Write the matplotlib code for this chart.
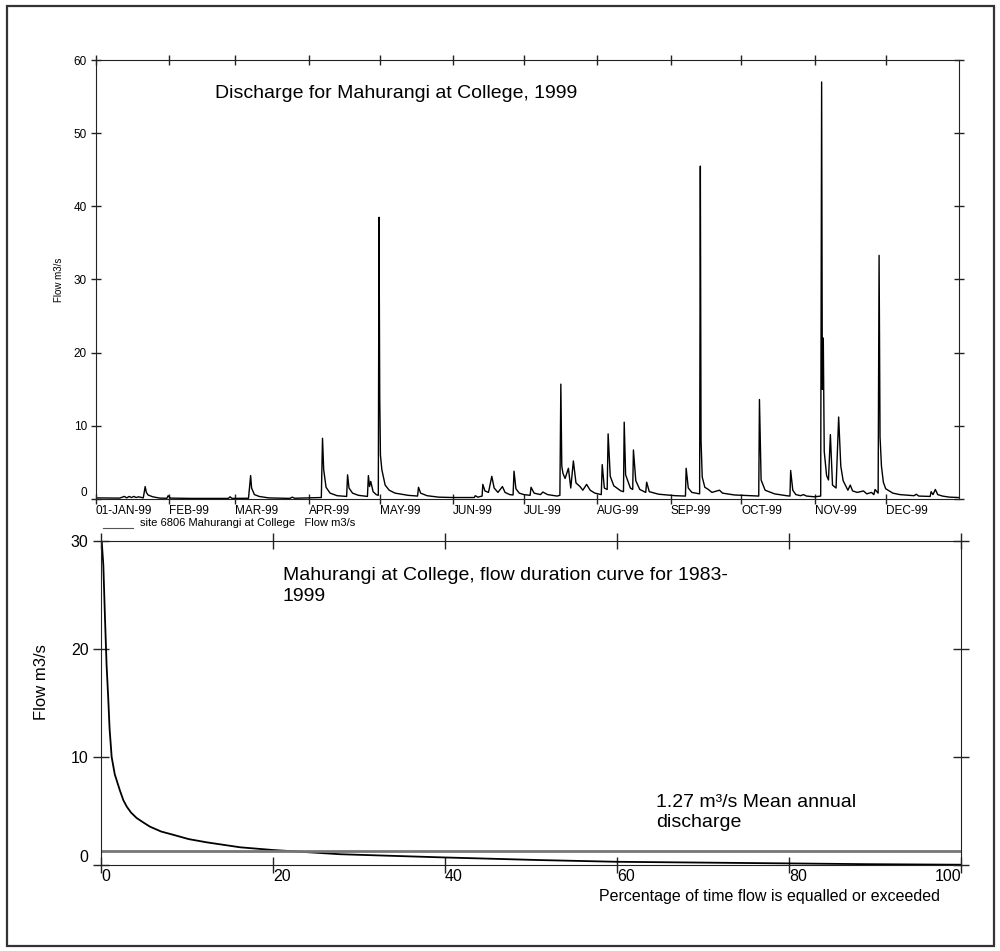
import matplotlib
matplotlib.use("Agg")
import matplotlib.pyplot as plt
import numpy as np
from matplotlib.patches import Rectangle
from matplotlib.lines import Line2D

plt.rcParams['font.family'] = ['Liberation Sans', 'DejaVu Sans']

# hydrograph vertices: day of 1999, flow m3/s
day = [0, 10, 12, 13, 14, 15, 16, 17, 18, 20, 20.8, 21.3, 22, 24, 27, 30, 30.5, 31.5,
       40, 56, 56.7, 57.5, 64.5, 65.4, 65.8, 67, 69, 73, 82, 83, 84, 95.3, 95.8, 96.3,
       97.3, 99, 102, 106, 106.4, 107, 108.5, 111, 114.8, 115.2, 115.7, 116.2, 117.2,
       118.5, 119.4, 119.7, 120.0, 120.3, 120.9, 122.3, 124, 126.5, 132, 136, 136.4,
       137.3, 140, 145, 151, 155, 160, 160.4, 161.5, 163.3, 163.6, 164.5, 166, 167.4,
       168.4, 170, 171.9, 173, 175, 176.4, 176.8, 177.6, 179, 181, 183.6, 184, 185.3,
       188, 189, 191, 195, 196.2, 196.6, 197.0, 197.5, 198.4, 199.8, 200.8, 201.9, 203,
       204.7, 205.9, 207.5, 209, 211, 213.7, 214.1, 215, 216.2, 216.6, 217.5, 219, 222,
       223.1, 223.4, 224, 226, 227, 227.3, 228.3, 230, 232.5, 232.9, 234, 238, 245,
       249.3, 249.6, 250.5, 252, 255.3, 255.6, 255.9, 256.4, 257.5, 259, 260.5, 263.7,
       265, 270, 277, 280.3, 280.6, 281.3, 283, 287, 292, 293.5, 293.8, 294.7, 296, 298,
       299.2, 300.5, 304, 306.5, 306.9, 307.2, 307.6, 308.0, 309, 309.8, 310.6, 311.5,
       313, 314.1, 315, 316, 318, 319, 320, 322, 324.6, 326, 328, 329, 329.5, 330.8,
       331.2, 331.6, 332.2, 333, 334, 337, 340, 346, 346.9, 348, 352.8, 353.2, 354, 355,
       356, 358, 361, 365]
flow = [0.15, 0.12, 0.35, 0.15, 0.35, 0.2, 0.35, 0.2, 0.3, 0.15, 1.7, 0.9, 0.55, 0.3, 0.12, 0.1, 0.45, 0.12,
        0.08, 0.08, 0.3, 0.08, 0.1, 3.2, 1.5, 0.6, 0.35, 0.15, 0.08, 0.25, 0.1, 0.2, 8.3, 4.0,
        1.6, 0.8, 0.45, 0.35, 3.3, 1.5, 0.8, 0.5, 0.35, 3.2, 1.7, 2.4, 1.0,
        0.6, 0.5, 38.5, 14, 6, 4.0, 1.9, 1.2, 0.8, 0.5, 0.4, 1.6,
        0.8, 0.45, 0.25, 0.2, 0.2, 0.2, 0.45, 0.25, 0.4, 2.0, 1.1, 0.9, 3.1,
        1.5, 0.9, 1.7, 0.9, 0.6, 0.55, 3.8, 1.4, 0.8, 0.6, 0.5, 1.6, 0.8,
        0.6, 0.95, 0.6, 0.4, 0.5, 15.7, 4.5, 3.5, 2.8, 4.2, 1.5, 5.2, 2.2,
        1.7, 1.2, 2.0, 1.2, 0.8, 0.6, 4.7, 1.5, 1.3, 8.9, 3.1, 1.8, 1.1,
        1.0, 10.5, 3.3, 1.5, 1.3, 6.7, 2.5, 1.3, 0.9, 2.3, 1.0, 0.65, 0.45,
        0.4, 4.2, 1.5, 0.9, 0.7, 45.5, 8, 3, 1.6, 1.3, 0.9, 1.2,
        0.8, 0.55, 0.45, 0.4, 13.6, 2.6, 1.2, 0.7, 0.45, 0.4, 3.9, 1.2, 0.6, 0.45,
        0.6, 0.4, 0.3, 0.4, 57, 15, 22, 6.5, 3.2, 2.6, 8.8, 1.9,
        1.5, 11.2, 4.5, 2.5, 1.2, 1.9, 1.1, 0.9, 1.1, 0.7, 0.9, 0.6, 1.3, 0.8,
        33.3, 8.5, 4.5, 2.3, 1.4, 0.8, 0.6, 0.45, 0.65, 0.4, 0.35, 1.0, 0.6, 1.3,
        0.6, 0.4, 0.25, 0.2]

month_labels = ["01-JAN-99", "FEB-99", "MAR-99", "APR-99", "MAY-99", "JUN-99",
                "JUL-99", "AUG-99", "SEP-99", "OCT-99", "NOV-99", "DEC-99"]
month_start = np.arange('1999-01', '2000-01', dtype='datetime64[M]').astype('datetime64[D]')
month_day = (month_start - np.datetime64('1999-01-01')).astype(int)

# flow duration curve 1983-1999
pct = [0, 0.08, 0.27, 0.47, 0.65, 0.85, 1.0, 1.24, 1.6, 2.2, 2.6, 3.0, 3.5, 4.15,
       5.0, 5.7, 7.0, 8.4, 10.2, 12.3, 16.2, 20, 27.8, 40, 51, 60, 80, 89, 100]
dur_flow = [31, 30, 27.8, 22.7, 18.5, 15.3, 12.6, 10.0, 8.4, 6.9, 6.0, 5.4, 4.85, 4.35,
            3.9, 3.55, 3.1, 2.8, 2.4, 2.1, 1.64, 1.39, 1.0, 0.7, 0.46, 0.3, 0.15, 0.08, 0.03]
mean_flow = 1.27

dark = '#222222'

fig = plt.figure(figsize=(10, 9.51), dpi=100)
fig.add_artist(Rectangle((0.007, 0.005), 0.987, 0.989, transform=fig.transFigure,
                         fill=False, edgecolor='#333333', lw=1.6))

# ---- top: hydrograph ----
ax1 = fig.add_axes([0.096, 0.4753, 0.863, 0.4616])
ax1.plot(day, flow, color='black', lw=1)
ax1.set_xlim(0, 365)
ax1.set_ylim(0, 60)
ax1.set_xticks(month_day)
ax1.set_xticklabels(month_labels, fontsize=8.5, ha='left')
ax1.set_yticks(range(0, 61, 10))
ax1.set_yticklabels([str(v) for v in range(0, 61, 10)], fontsize=8.5)
ax1.yaxis.get_ticklabels()[0].set_va('bottom')
ax1.tick_params(direction='inout', length=7, width=1, color=dark,
                top=True, right=True, labeltop=False, labelright=False)
ax1.tick_params(axis='x', pad=0.5)
ax1.tick_params(axis='y', pad=3)
for s in ax1.spines.values():
    s.set_color(dark)
ax1.set_ylabel("Flow m3/s", fontsize=7)
ax1.yaxis.set_label_coords(-0.037, 0.5)

fig.text(0.215, 1 - 94 / 951, "Discharge for Mahurangi at College, 1999",
         fontsize=14, va='center')

fig.add_artist(Line2D([0.103, 0.133], [1 - 528 / 951] * 2, color='#555555', lw=0.8))
fig.text(0.140, 1 - 523 / 951, "site 6806 Mahurangi at College   Flow m3/s",
         fontsize=8, va='center')

# ---- bottom: flow duration curve ----
ax2 = fig.add_axes([0.101, 0.0904, 0.86, 0.3407])
ax2.plot(pct, dur_flow, color='black', lw=1.3)
ax2.axhline(mean_flow, color='#777777', lw=2)
ax2.set_xlim(0, 100)
ax2.set_ylim(0, 30)
ax2.set_xticks(range(0, 101, 20))
ax2.set_xticklabels([str(v) for v in range(0, 101, 20)], fontsize=11.5, ha='left')
ax2.xaxis.get_ticklabels()[-1].set_ha('right')
ax2.set_yticks(range(0, 31, 10))
ax2.set_yticklabels([str(v) for v in range(0, 31, 10)], fontsize=11.5)
ax2.yaxis.get_ticklabels()[0].set_va('bottom')
ax2.tick_params(direction='inout', length=12, width=1, color=dark,
                top=True, right=True, labeltop=False, labelright=False)
ax2.tick_params(axis='x', pad=-3)
ax2.tick_params(axis='y', pad=3)
for s in ax2.spines.values():
    s.set_color(dark)
ax2.set_ylabel("Flow m3/s", fontsize=12)
ax2.yaxis.set_label_coords(-0.06, 0.565)

fig.text(0.283, 1 - 567 / 951,
         "Mahurangi at College, flow duration curve for 1983-\n1999",
         fontsize=14, va='top', linespacing=1.3)
fig.text(0.656, 1 - 794 / 951, "1.27 m³/s Mean annual\ndischarge",
         fontsize=14, va='top', linespacing=1.2)
fig.text(0.599, 1 - 897 / 951, "Percentage of time flow is equalled or exceeded",
         fontsize=11.5, va='center')

fig.savefig("out.png", dpi=100)
